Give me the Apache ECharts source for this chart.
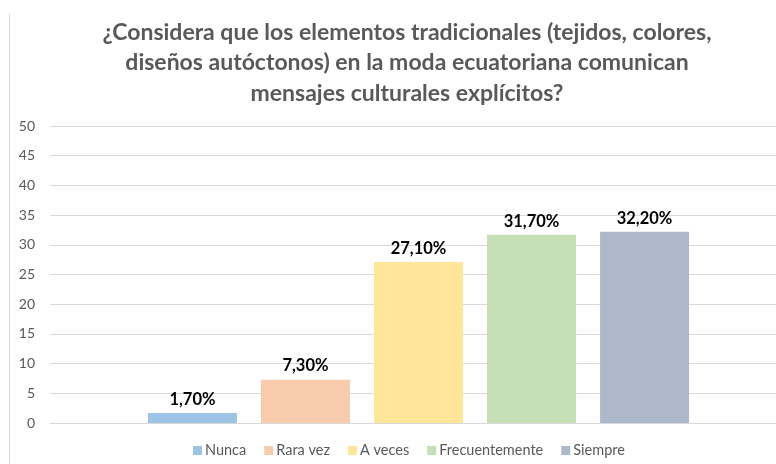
<!DOCTYPE html>
<html><head><meta charset="utf-8">
<script src="https://cdn.jsdelivr.net/npm/echarts@6/dist/echarts.min.js"></script>
<style>html,body{margin:0;padding:0;background:#fff}#c{width:776px;height:464px}</style>
</head><body><div id="c"></div>
<script>
const titleText = '¿Considera que los elementos tradicionales (tejidos, colores,\ndiseños autóctonos) en la moda ecuatoriana comunican\nmensajes culturales explícitos?';
const seriesNames = ['Nunca', 'Rara vez', 'A veces', 'Frecuentemente', 'Siempre'];
const seriesValues = [1.7, 7.3, 27.1, 31.7, 32.2];
const seriesColors = ['#9DC3E6', '#F8CBAD', '#FFE699', '#C5E0B4', '#ADB9CA'];
const yTicks = [0, 5, 10, 15, 20, 25, 30, 35, 40, 45, 50];

const chart = echarts.init(document.getElementById('c'));
const font = 'Lato, "Open Sans", sans-serif';
const yMin = yTicks[0], yMax = yTicks[yTicks.length - 1];
chart.setOption({
  animation: false,
  textStyle: { fontFamily: font },
  title: {
    text: titleText,
    left: 402, top: 12, textAlign: 'center',
    textStyle: { fontFamily: font, fontSize: 23, fontWeight: 'bold', color: '#595959', lineHeight: 30.5 }
  },
  legend: {
    bottom: 1, left: 188,
    itemWidth: 9, itemHeight: 9, itemGap: 18,
    icon: 'rect',
    textStyle: { fontFamily: font, fontSize: 14.5, color: '#595959', padding: [0, 0, 0, -2] },
    data: seriesNames
  },
  grid: [
    { left: 50, right: 0, top: 126, bottom: 41 },
    { left: 61, right: 0, top: 126, bottom: 41 }
  ],
  xAxis: [
    { gridIndex: 0, type: 'category', data: [''],
      axisLine: { lineStyle: { color: '#D9D9D9' } },
      axisTick: { show: false }, axisLabel: { show: false } },
    { gridIndex: 1, type: 'category', data: [''],
      axisLine: { show: false }, axisTick: { show: false }, axisLabel: { show: false } }
  ],
  yAxis: [
    { gridIndex: 0, type: 'value', min: yMin, max: yMax, interval: 5,
      axisLabel: { fontFamily: font, fontSize: 14, color: '#595959', margin: 15 },
      splitLine: { lineStyle: { color: '#D9D9D9' } },
      axisLine: { show: false }, axisTick: { show: false } },
    { gridIndex: 1, type: 'value', min: yMin, max: yMax, interval: 5,
      axisLabel: { show: false }, splitLine: { show: false },
      axisLine: { show: false }, axisTick: { show: false } }
  ],
  graphic: [{ type: 'line', shape: { x1: 9.5, y1: 14, x2: 9.5, y2: 464 }, style: { stroke: '#D9D9D9', lineWidth: 1 } }],
  series: seriesNames.map((n, i) => ({
    name: n, type: 'bar', data: [seriesValues[i]],
    xAxisIndex: 1, yAxisIndex: 1,
    barWidth: 89, barGap: '27%',
    itemStyle: { color: seriesColors[i] },
    label: {
      show: true, position: 'top', distance: 5,
      fontFamily: font, fontSize: 16.5, fontWeight: 'bold', color: '#000',
      formatter: p => p.value.toFixed(2).replace('.', ',') + '%'
    }
  }))
});
</script></body></html>
